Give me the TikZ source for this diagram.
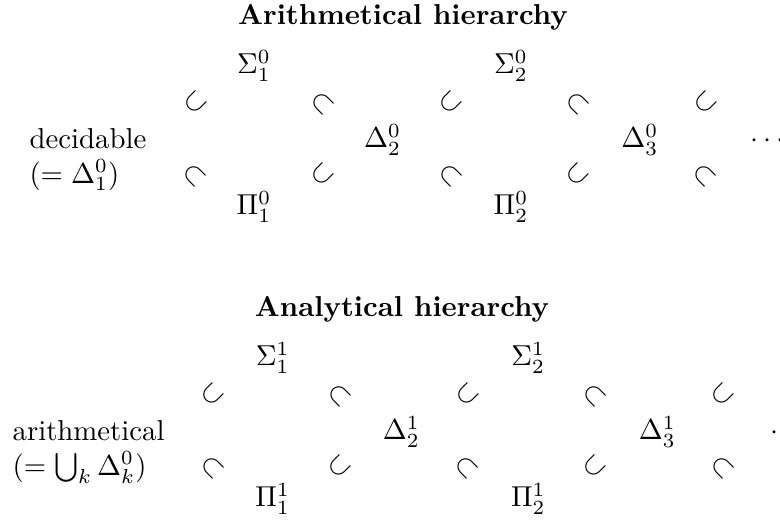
\documentclass[tikz,border=0pt]{standalone}
\usetikzlibrary{positioning}
\tikzset{
  hier/title/.style={
    font=\bfseries,
    inner sep=0pt,
    anchor=base
  },
  hier/cls/.style={inner sep=0pt, anchor=base},
  hier/incl/.style={inner sep=0pt},
  hier/note/.style={
    inner sep=0pt,
    anchor=north west,
    align=left
  },
  hier/more/.style={inner sep=0pt, anchor=base west}
}
\begin{document}
\begin{tikzpicture}[x=1cm,y=1cm]
  \path[use as bounding box,clip] (0,0) rectangle (9.524,6.410);

  % arithmetical hierarchy
  \node[hier/title] (arith) at (4.921,6.105) {Arithmetical hierarchy};
  \node[hier/note] (dec) at (0.354,4.847) {decidable\\$(=\Delta^0_1)$};
  \node[hier/cls] (s01) at (3.101,5.507) {$\Sigma^0_1$};
  \node[hier/cls] (p01) at (3.101,3.785) {$\Pi^0_1$};
  \node[hier/cls] (d02) at (4.672,4.603) {$\Delta^0_2$};
  \node[hier/cls] (s02) at (6.239,5.507) {$\Sigma^0_2$};
  \node[hier/cls] (p02) at (6.239,3.785) {$\Pi^0_2$};
  \node[hier/cls] (d03) at (7.812,4.603) {$\Delta^0_3$};
  \node[hier/more] (amore) at (9.158,4.603) {$\cdots$};
  \foreach \x/\r [count=\i] in {2.381/45,3.938/-45,5.495/45,7.051/-45,8.608/45}
    \node[hier/incl,rotate=\r] (a-up-\i) at (\x,5.153) {$\subset$};
  \foreach \x/\r [count=\i] in {2.381/-45,3.938/45,5.495/-45,7.051/45,8.608/-45}
    \node[hier/incl,rotate=\r] (a-lo-\i) at (\x,4.274) {$\subset$};

  % analytical hierarchy
  \node[hier/title] (anal) at (4.908,2.540) {Analytical hierarchy};
  \node[hier/note] (arm) at (0.147,1.282) {arithmetical\\$(=\bigcup_k\Delta^0_k)$};
  \node[hier/cls] (s11) at (3.330,1.942) {$\Sigma^1_1$};
  \node[hier/cls] (p11) at (3.330,0.220) {$\Pi^1_1$};
  \node[hier/cls] (d12) at (4.900,1.038) {$\Delta^1_2$};
  \node[hier/cls] (s12) at (6.450,1.942) {$\Sigma^1_2$};
  \node[hier/cls] (p12) at (6.450,0.220) {$\Pi^1_2$};
  \node[hier/cls] (d13) at (8.025,1.038) {$\Delta^1_3$};
  \node[hier/more] (bmore) at (9.402,1.038) {$\cdots$};
  \foreach \x/\r [count=\i] in {2.589/45,4.145/-45,5.702/45,7.259/-45,8.816/45}
    \node[hier/incl,rotate=\r] (b-up-\i) at (\x,1.588) {$\subset$};
  \foreach \x/\r [count=\i] in {2.589/-45,4.145/45,5.702/-45,7.259/45,8.816/-45}
    \node[hier/incl,rotate=\r] (b-lo-\i) at (\x,0.709) {$\subset$};
\end{tikzpicture}
\end{document}
